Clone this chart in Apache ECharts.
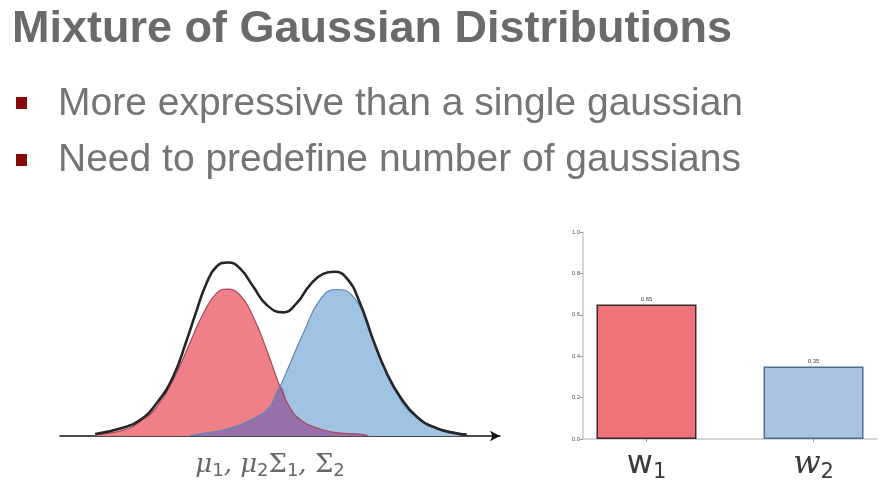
<!DOCTYPE html>
<html>
<head>
<meta charset="utf-8">
<script src="https://cdn.jsdelivr.net/npm/echarts@6/dist/echarts.min.js"></script>
<style>
  html, body { margin: 0; padding: 0; background: #fff; }
  #chart { width: 892px; height: 498px; }
</style>
</head>
<body>
<div id="chart"></div>
<script>
// slide text
const titleText = 'Mixture of Gaussian Distributions';
const bulletLines = ['More expressive than a single gaussian', 'Need to predefine number of gaussians'];

// mixture plot, values (x: arbitrary units, y: density)
const redCurve = [
  [-4.20, 0.005], [-3.56, 0.016], [-3.18, 0.039], [-2.80, 0.079], [-2.43, 0.151],
  [-2.05, 0.251], [-1.74, 0.332], [-1.44, 0.386], [-1.20, 0.397], [-0.91, 0.381],
  [-0.61, 0.322], [-0.30, 0.232], [0.00, 0.133], [0.23, 0.076], [0.52, 0.039],
  [0.91, 0.019], [1.29, 0.009], [1.89, 0.004], [2.00, 0.000]
];
const blueCurve = [
  [-2.05, 0.001], [-1.75, 0.007], [-1.14, 0.021], [-0.53, 0.052], [-0.23, 0.079],
  [-0.08, 0.116], [0.00, 0.133], [0.23, 0.196], [0.53, 0.278], [0.91, 0.368],
  [1.27, 0.396], [1.67, 0.376], [2.05, 0.278], [2.35, 0.187], [2.65, 0.115],
  [3.03, 0.057], [3.48, 0.025], [4.02, 0.009], [4.25, 0.005]
];
// region under both bumps (blue tail left of the crossing, red tail right of it)
const overlapCurve = [
  [-2.05, 0.001], [-1.75, 0.007], [-1.14, 0.021], [-0.53, 0.052], [-0.23, 0.079],
  [-0.08, 0.116], [0.00, 0.133], [0.23, 0.076], [0.52, 0.039], [0.91, 0.019],
  [1.29, 0.009], [1.89, 0.004], [2.00, 0.000]
];
const mixCurve = [
  [-4.20, 0.005], [-3.57, 0.022], [-3.18, 0.043], [-2.80, 0.089], [-2.43, 0.160],
  [-2.12, 0.259], [-1.89, 0.341], [-1.67, 0.413], [-1.44, 0.458], [-1.18, 0.469],
  [-0.91, 0.453], [-0.61, 0.404], [-0.30, 0.354], [0.07, 0.334], [0.38, 0.359],
  [0.68, 0.408], [0.98, 0.438], [1.23, 0.444], [1.52, 0.426], [1.82, 0.359],
  [2.12, 0.259], [2.43, 0.169], [2.73, 0.106], [3.11, 0.052], [3.56, 0.021],
  [4.02, 0.007], [4.24, 0.004]
];

// weights bar chart
const weightPos = [0, 1];
const weightValues = [0.65, 0.35];
const weightNames = ['{w|w}{s|1}', '{wi|w}{s|2}'];
const barColors = ['#ee7277', '#a8c2df'];
const barBorders = ['#3b2b2d', '#4d6f94'];

const chart = echarts.init(document.getElementById('chart'));

const curveBase = {
  type: 'line',
  xAxisIndex: 0,
  yAxisIndex: 0,
  smooth: 0.5,
  showSymbol: false,
  silent: true
};

const option = {
  animation: false,
  backgroundColor: '#fff',
  grid: [
    { left: 60, right: 392, top: 251, bottom: 62 },
    { left: 583, right: 15, top: 232, bottom: 59 }
  ],
  xAxis: [
    {
      gridIndex: 0, type: 'value', min: -5, max: 5,
      axisLine: { show: true, lineStyle: { color: '#111', width: 1.5 }, symbol: ['none', 'arrow'], symbolSize: [8, 10] },
      axisTick: { show: false }, axisLabel: { show: false }, splitLine: { show: false }
    },
    {
      gridIndex: 1, type: 'value', min: -0.38, max: 1.38,
      axisLine: { show: true, onZero: false, lineStyle: { color: '#c8c8c8', width: 1.5 } },
      axisTick: { show: true, customValues: weightPos, length: 3, lineStyle: { color: '#999' } },
      axisLabel: {
        customValues: weightPos,
        margin: 10,
        formatter: v => weightNames[weightPos.indexOf(v)],
        rich: {
          w: { fontFamily: 'DejaVu Sans', fontSize: 32, color: '#3a3a3a', verticalAlign: 'top', lineHeight: 34 },
          wi: { fontFamily: 'DejaVu Serif', fontStyle: 'italic', fontSize: 32, color: '#3a3a3a', verticalAlign: 'top', lineHeight: 34 },
          s: { fontFamily: 'DejaVu Sans', fontSize: 21, color: '#3a3a3a', verticalAlign: 'bottom', lineHeight: 21 }
        }
      },
      splitLine: { show: false }
    }
  ],
  yAxis: [
    { gridIndex: 0, type: 'value', min: 0, max: 0.5, show: false },
    {
      gridIndex: 1, type: 'value', min: 0, max: 1, interval: 0.2,
      axisLine: { show: true, onZero: false, lineStyle: { color: '#c8c8c8', width: 1.5 } },
      axisTick: { show: true, length: 3, lineStyle: { color: '#999' } },
      axisLabel: { fontSize: 6, color: '#555', margin: 3, formatter: v => v.toFixed(1) },
      splitLine: { show: false }
    }
  ],
  graphic: [
    {
      type: 'text', x: 12, y: 30,
      style: { text: titleText, font: 'bold 45px "Liberation Sans"', fill: '#6a6a6a', verticalAlign: 'middle' }
    },
    {
      type: 'text', x: 58, y: 104,
      style: { text: bulletLines[0], font: '39px "Liberation Sans"', fill: '#747474', verticalAlign: 'middle' }
    },
    {
      type: 'text', x: 58, y: 160,
      style: { text: bulletLines[1], font: '39px "Liberation Sans"', fill: '#747474', verticalAlign: 'middle' }
    },
    { type: 'rect', shape: { x: 16, y: 97, width: 11, height: 12 }, style: { fill: '#870a0a' } },
    { type: 'rect', shape: { x: 16, y: 154, width: 11, height: 12 }, style: { fill: '#870a0a' } },
    {
      type: 'text', x: 270, y: 466,
      style: {
        text: '{m|μ}{s|1}{m|, }{m|μ}{s|2}{g|Σ}{s|1}{m|, }{g|Σ}{s|2}',
        align: 'center', verticalAlign: 'middle',
        rich: {
          m: { fontFamily: 'DejaVu Serif', fontStyle: 'italic', fontSize: 26, fill: '#666', verticalAlign: 'top', lineHeight: 28 },
          g: { fontFamily: 'DejaVu Serif', fontSize: 26, fill: '#666', verticalAlign: 'top', lineHeight: 28 },
          s: { fontFamily: 'DejaVu Sans', fontSize: 18, fill: '#666', verticalAlign: 'bottom', lineHeight: 18 }
        }
      }
    }
  ],
  series: [
    Object.assign({}, curveBase, { name: 'red fill', data: redCurve, lineStyle: { width: 0 }, areaStyle: { color: '#f08087', opacity: 1 }, z: 2 }),
    Object.assign({}, curveBase, { name: 'blue fill', data: blueCurve, lineStyle: { width: 0 }, areaStyle: { color: '#a0c3e4', opacity: 1 }, z: 3 }),
    Object.assign({}, curveBase, { name: 'overlap', data: overlapCurve, lineStyle: { width: 0 }, areaStyle: { color: '#976fab', opacity: 1 }, z: 4 }),
    Object.assign({}, curveBase, { name: 'red', data: redCurve, lineStyle: { color: '#a8485a', width: 1.2 }, z: 5 }),
    Object.assign({}, curveBase, { name: 'blue', data: blueCurve, lineStyle: { color: '#5a86b8', width: 1.2 }, z: 5 }),
    Object.assign({}, curveBase, { name: 'mixture', data: mixCurve, lineStyle: { color: '#262626', width: 2.6 }, z: 6 }),
    {
      type: 'bar',
      xAxisIndex: 1,
      yAxisIndex: 1,
      barWidth: 100,
      data: weightPos.map((x, i) => ({
        value: [x, weightValues[i]],
        itemStyle: { color: barColors[i], borderColor: barBorders[i], borderWidth: 1.5 }
      })),
      label: { show: true, position: 'top', distance: 2, fontSize: 6, color: '#444', formatter: p => p.value[1].toFixed(2) }
    }
  ]
};

chart.setOption(option);
</script>
</body>
</html>
